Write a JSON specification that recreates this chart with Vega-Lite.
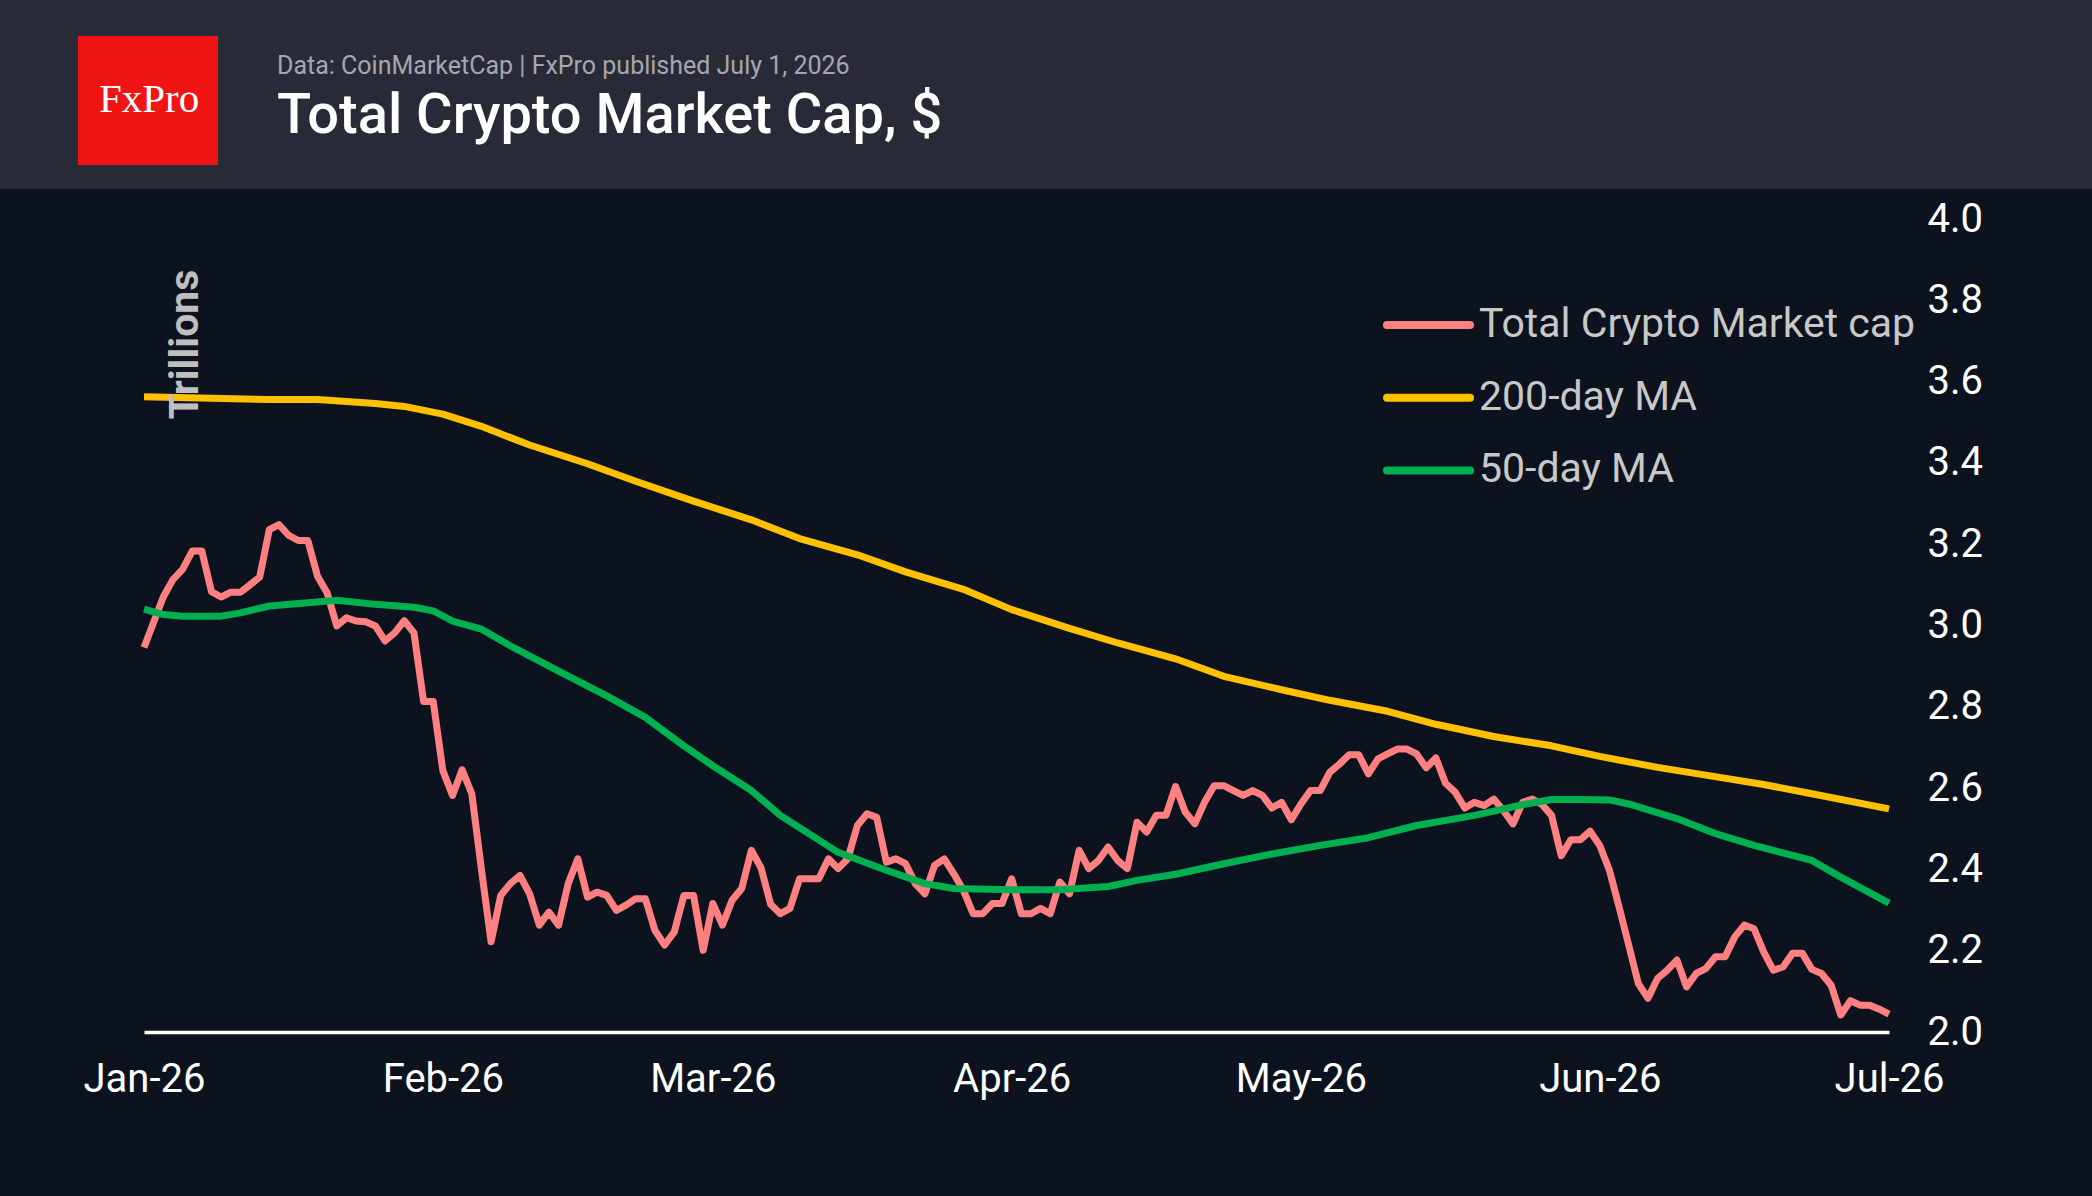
{
  "$schema": "https://vega.github.io/schema/vega-lite/v6.json",
  "background": "#0c131f",
  "padding": 0,
  "spacing": 10,
  "bounds": "full",
  "resolve": {"scale": {"color": "independent"}, "legend": {"color": "independent"}},
  "config": {
    "font": "Roboto",
    "view": {"stroke": null}
  },
  "datasets": {
    "total": [
      {"d":"2026-01-01","v":2.946},{"d":"2026-01-02","v":3.008},{"d":"2026-01-03","v":3.070},{"d":"2026-01-04","v":3.113},{"d":"2026-01-05","v":3.138},{"d":"2026-01-06","v":3.183},{"d":"2026-01-07","v":3.183},{"d":"2026-01-08","v":3.083},{"d":"2026-01-09","v":3.070},{"d":"2026-01-10","v":3.082},{"d":"2026-01-11","v":3.082},{"d":"2026-01-12","v":3.100},{"d":"2026-01-13","v":3.119},{"d":"2026-01-14","v":3.236},{"d":"2026-01-15","v":3.248},{"d":"2026-01-16","v":3.222},{"d":"2026-01-17","v":3.209},{"d":"2026-01-18","v":3.209},{"d":"2026-01-19","v":3.121},{"d":"2026-01-20","v":3.080},{"d":"2026-01-21","v":2.999},{"d":"2026-01-22","v":3.019},{"d":"2026-01-23","v":3.011},{"d":"2026-01-24","v":3.009},{"d":"2026-01-25","v":2.999},{"d":"2026-01-26","v":2.962},{"d":"2026-01-27","v":2.982},{"d":"2026-01-28","v":3.012},{"d":"2026-01-29","v":2.982},{"d":"2026-01-30","v":2.813},{"d":"2026-01-31","v":2.813},
      {"d":"2026-02-01","v":2.643},{"d":"2026-02-02","v":2.582},{"d":"2026-02-03","v":2.645},{"d":"2026-02-04","v":2.586},{"d":"2026-02-05","v":2.400},{"d":"2026-02-06","v":2.222},{"d":"2026-02-07","v":2.336},{"d":"2026-02-08","v":2.365},{"d":"2026-02-09","v":2.385},{"d":"2026-02-10","v":2.340},{"d":"2026-02-11","v":2.263},{"d":"2026-02-12","v":2.295},{"d":"2026-02-13","v":2.263},{"d":"2026-02-14","v":2.365},{"d":"2026-02-15","v":2.426},{"d":"2026-02-16","v":2.332},{"d":"2026-02-17","v":2.344},{"d":"2026-02-18","v":2.336},{"d":"2026-02-19","v":2.299},{"d":"2026-02-20","v":2.312},{"d":"2026-02-21","v":2.328},{"d":"2026-02-22","v":2.328},{"d":"2026-02-23","v":2.250},{"d":"2026-02-24","v":2.214},{"d":"2026-02-25","v":2.246},{"d":"2026-02-26","v":2.336},{"d":"2026-02-27","v":2.336},{"d":"2026-02-28","v":2.201},
      {"d":"2026-03-01","v":2.316},{"d":"2026-03-02","v":2.263},{"d":"2026-03-03","v":2.324},{"d":"2026-03-04","v":2.353},{"d":"2026-03-05","v":2.447},{"d":"2026-03-06","v":2.404},{"d":"2026-03-07","v":2.314},{"d":"2026-03-08","v":2.291},{"d":"2026-03-09","v":2.304},{"d":"2026-03-10","v":2.377},{"d":"2026-03-11","v":2.377},{"d":"2026-03-12","v":2.377},{"d":"2026-03-13","v":2.426},{"d":"2026-03-14","v":2.402},{"d":"2026-03-15","v":2.426},{"d":"2026-03-16","v":2.508},{"d":"2026-03-17","v":2.537},{"d":"2026-03-18","v":2.528},{"d":"2026-03-19","v":2.418},{"d":"2026-03-20","v":2.426},{"d":"2026-03-21","v":2.414},{"d":"2026-03-22","v":2.365},{"d":"2026-03-23","v":2.340},{"d":"2026-03-24","v":2.410},{"d":"2026-03-25","v":2.426},{"d":"2026-03-26","v":2.389},{"d":"2026-03-27","v":2.348},{"d":"2026-03-28","v":2.291},{"d":"2026-03-29","v":2.291},{"d":"2026-03-30","v":2.316},{"d":"2026-03-31","v":2.316},
      {"d":"2026-04-01","v":2.377},{"d":"2026-04-02","v":2.291},{"d":"2026-04-03","v":2.291},{"d":"2026-04-04","v":2.304},{"d":"2026-04-05","v":2.291},{"d":"2026-04-06","v":2.369},{"d":"2026-04-07","v":2.340},{"d":"2026-04-08","v":2.447},{"d":"2026-04-09","v":2.402},{"d":"2026-04-10","v":2.422},{"d":"2026-04-11","v":2.455},{"d":"2026-04-12","v":2.422},{"d":"2026-04-13","v":2.402},{"d":"2026-04-14","v":2.516},{"d":"2026-04-15","v":2.492},{"d":"2026-04-16","v":2.533},{"d":"2026-04-17","v":2.533},{"d":"2026-04-18","v":2.604},{"d":"2026-04-19","v":2.541},{"d":"2026-04-20","v":2.512},{"d":"2026-04-21","v":2.565},{"d":"2026-04-22","v":2.606},{"d":"2026-04-23","v":2.606},{"d":"2026-04-24","v":2.594},{"d":"2026-04-25","v":2.582},{"d":"2026-04-26","v":2.594},{"d":"2026-04-27","v":2.582},{"d":"2026-04-28","v":2.551},{"d":"2026-04-29","v":2.565},{"d":"2026-04-30","v":2.522},
      {"d":"2026-05-01","v":2.561},{"d":"2026-05-02","v":2.594},{"d":"2026-05-03","v":2.594},{"d":"2026-05-04","v":2.639},{"d":"2026-05-05","v":2.659},{"d":"2026-05-06","v":2.682},{"d":"2026-05-07","v":2.682},{"d":"2026-05-08","v":2.635},{"d":"2026-05-09","v":2.672},{"d":"2026-05-10","v":2.684},{"d":"2026-05-11","v":2.696},{"d":"2026-05-12","v":2.696},{"d":"2026-05-13","v":2.684},{"d":"2026-05-14","v":2.650},{"d":"2026-05-15","v":2.674},{"d":"2026-05-16","v":2.612},{"d":"2026-05-17","v":2.590},{"d":"2026-05-18","v":2.551},{"d":"2026-05-19","v":2.565},{"d":"2026-05-20","v":2.557},{"d":"2026-05-21","v":2.573},{"d":"2026-05-22","v":2.545},{"d":"2026-05-23","v":2.512},{"d":"2026-05-24","v":2.565},{"d":"2026-05-25","v":2.573},{"d":"2026-05-26","v":2.560},{"d":"2026-05-27","v":2.533},{"d":"2026-05-28","v":2.434},{"d":"2026-05-29","v":2.473},{"d":"2026-05-30","v":2.473},{"d":"2026-05-31","v":2.494},
      {"d":"2026-06-01","v":2.459},{"d":"2026-06-02","v":2.398},{"d":"2026-06-03","v":2.308},{"d":"2026-06-04","v":2.214},{"d":"2026-06-05","v":2.119},{"d":"2026-06-06","v":2.083},{"d":"2026-06-07","v":2.132},{"d":"2026-06-08","v":2.152},{"d":"2026-06-09","v":2.177},{"d":"2026-06-10","v":2.111},{"d":"2026-06-11","v":2.144},{"d":"2026-06-12","v":2.156},{"d":"2026-06-13","v":2.185},{"d":"2026-06-14","v":2.185},{"d":"2026-06-15","v":2.234},{"d":"2026-06-16","v":2.263},{"d":"2026-06-17","v":2.254},{"d":"2026-06-18","v":2.197},{"d":"2026-06-19","v":2.152},{"d":"2026-06-20","v":2.160},{"d":"2026-06-21","v":2.194},{"d":"2026-06-22","v":2.194},{"d":"2026-06-23","v":2.154},{"d":"2026-06-24","v":2.144},{"d":"2026-06-25","v":2.115},{"d":"2026-06-26","v":2.042},{"d":"2026-06-27","v":2.077},{"d":"2026-06-28","v":2.066},{"d":"2026-06-29","v":2.066},{"d":"2026-06-30","v":2.056},
      {"d":"2026-07-01","v":2.044}
    ],
    "ma200": [
      {"d":"2026-01-01","v":3.563},{"d":"2026-01-08","v":3.559},{"d":"2026-01-14","v":3.556},{"d":"2026-01-19","v":3.556},{"d":"2026-01-25","v":3.546},{"d":"2026-01-28","v":3.539},{"d":"2026-02-01","v":3.520},{"d":"2026-02-05","v":3.490},{"d":"2026-02-10","v":3.444},{"d":"2026-02-16","v":3.398},{"d":"2026-02-21","v":3.355},{"d":"2026-02-27","v":3.306},{"d":"2026-03-05","v":3.260},{"d":"2026-03-10","v":3.214},{"d":"2026-03-16","v":3.174},{"d":"2026-03-21","v":3.132},{"d":"2026-03-27","v":3.089},{"d":"2026-04-01","v":3.039},{"d":"2026-04-07","v":2.993},{"d":"2026-04-12","v":2.957},{"d":"2026-04-18","v":2.918},{"d":"2026-04-23","v":2.875},{"d":"2026-04-29","v":2.842},{"d":"2026-05-04","v":2.816},{"d":"2026-05-10","v":2.789},{"d":"2026-05-15","v":2.757},{"d":"2026-05-21","v":2.727},{"d":"2026-05-27","v":2.704},{"d":"2026-06-01","v":2.678},{"d":"2026-06-07","v":2.651},{"d":"2026-06-12","v":2.632},{"d":"2026-06-18","v":2.609},{"d":"2026-06-23","v":2.586},{"d":"2026-07-01","v":2.549}
    ],
    "ma50": [
      {"d":"2026-01-01","v":3.040},{"d":"2026-01-03","v":3.027},{"d":"2026-01-05","v":3.023},{"d":"2026-01-09","v":3.023},{"d":"2026-01-11","v":3.031},{"d":"2026-01-14","v":3.048},{"d":"2026-01-18","v":3.056},{"d":"2026-01-21","v":3.062},{"d":"2026-01-25","v":3.052},{"d":"2026-01-29","v":3.045},{"d":"2026-01-31","v":3.036},{"d":"2026-02-02","v":3.011},{"d":"2026-02-05","v":2.991},{"d":"2026-02-08","v":2.950},{"d":"2026-02-13","v":2.888},{"d":"2026-02-18","v":2.827},{"d":"2026-02-22","v":2.774},{"d":"2026-02-26","v":2.704},{"d":"2026-03-01","v":2.655},{"d":"2026-03-05","v":2.594},{"d":"2026-03-08","v":2.533},{"d":"2026-03-14","v":2.442},{"d":"2026-03-19","v":2.398},{"d":"2026-03-23","v":2.365},{"d":"2026-03-26","v":2.353},{"d":"2026-04-01","v":2.350},{"d":"2026-04-06","v":2.350},{"d":"2026-04-11","v":2.358},{"d":"2026-04-14","v":2.373},{"d":"2026-04-18","v":2.388},{"d":"2026-04-23","v":2.414},{"d":"2026-04-28","v":2.438},{"d":"2026-05-03","v":2.459},{"d":"2026-05-08","v":2.478},{"d":"2026-05-13","v":2.508},{"d":"2026-05-19","v":2.533},{"d":"2026-05-24","v":2.559},{"d":"2026-05-27","v":2.572},{"d":"2026-05-30","v":2.572},{"d":"2026-06-02","v":2.571},{"d":"2026-06-04","v":2.561},{"d":"2026-06-09","v":2.525},{"d":"2026-06-13","v":2.488},{"d":"2026-06-17","v":2.459},{"d":"2026-06-23","v":2.422},{"d":"2026-06-26","v":2.381},{"d":"2026-07-01","v":2.317}
    ]
  },
  "vconcat": [
    {
      "spacing": 0,
      "bounds": "flush",
      "resolve": {"scale": {"color": "independent"}, "legend": {"color": "independent"}},
      "hconcat": [
        {
          "width": 277,
          "height": 189,
          "view": {"fill": "#282b37", "stroke": null},
          "data": {"values": [{}]},
          "layer": [
            {
              "mark": {"type": "point", "shape": "M-0.864,-0.836H1.136V1.007H-0.864Z", "size": 19600, "filled": true, "fill": "#f01414", "opacity": 1, "strokeWidth": 0},
              "encoding": {}
            },
            {
              "mark": {"type": "text", "text": "FxPro", "font": "Liberation Serif", "fontSize": 41, "color": "#ffffff", "dx": 10.5, "dy": 5},
              "encoding": {}
            }
          ]
        },
        {
          "width": 1815,
          "height": 189,
          "view": {"fill": "#282b37", "stroke": null},
          "title": {
            "text": "Data: CoinMarketCap | FxPro published July 1, 2026",
            "subtitle": "Total Crypto Market Cap, $",
            "orient": "top",
            "anchor": "start",
            "frame": "group",
            "offset": -143.5,
            "font": "Roboto",
            "fontSize": 25,
            "fontWeight": "normal",
            "color": "#a6a6ad",
            "subtitleFont": "Roboto",
            "subtitleFontSize": 56,
            "subtitleFontWeight": 500,
            "subtitleColor": "#ffffff",
            "subtitlePadding": 9.5
          },
          "data": {"values": [{}]},
          "mark": {"type": "text", "text": ""},
          "encoding": {}
        }
      ]
    },
    {
      "spacing": 0,
      "bounds": "flush",
      "resolve": {"scale": {"color": "independent"}, "legend": {"color": "independent"}},
      "hconcat": [
        {
          "width": 144,
          "height": 813,
          "data": {"values": [{}]},
          "mark": {"type": "text", "text": ""},
          "encoding": {}
        },
        {
          "width": 1745,
          "height": 813,
          "encoding": {
            "x": {
              "field": "d",
              "type": "temporal",
              "scale": {"type": "utc", "domain": [{"year": 2026, "month": 1, "date": 1, "utc": true}, {"year": 2026, "month": 7, "date": 1, "utc": true}], "nice": false},
              "axis": {
                "title": null,
                "values": [
                  {"year": 2026, "month": 1, "date": 1, "utc": true},
                  {"year": 2026, "month": 2, "date": 1, "utc": true},
                  {"year": 2026, "month": 3, "date": 1, "utc": true},
                  {"year": 2026, "month": 4, "date": 1, "utc": true},
                  {"year": 2026, "month": 5, "date": 1, "utc": true},
                  {"year": 2026, "month": 6, "date": 1, "utc": true},
                  {"year": 2026, "month": 7, "date": 1, "utc": true}
                ],
                "format": "%b-%y",
                "grid": false,
                "ticks": false,
                "tickSize": 0,
                "labelPadding": 27,
                "labelFont": "Roboto",
                "labelFontSize": 40,
                "labelColor": "#ffffff",
                "labelOverlap": false,
                "labelFlush": false,
                "labelBound": false,
                "domainColor": "#ffffff",
                "domainWidth": 3.5,
                "zindex": 1
              }
            },
            "y": {
              "field": "v",
              "type": "quantitative",
              "scale": {"domain": [2, 4], "nice": false, "zero": false},
              "axis": {
                "orient": "right",
                "values": [2, 2.2, 2.4, 2.6, 2.8, 3, 3.2, 3.4, 3.6, 3.8, 4],
                "format": ".1f",
                "grid": false,
                "ticks": false,
                "tickSize": 0,
                "domain": false,
                "labelAlign": "left",
                "labelBaseline": "middle",
                "labelPadding": 38,
                "labelFont": "Roboto",
                "labelFontSize": 40,
                "labelColor": "#ffffff",
                "labelOverlap": false,
                "labelBound": false,
                "labelFlush": false,
                "title": "Trillions",
                "titleAngle": -90,
                "titleX": -1692,
                "titleY": 125,
                "titleAlign": "center",
                "titleBaseline": "alphabetic",
                "titleFont": "Roboto",
                "titleFontSize": 41,
                "titleFontWeight": "bold",
                "titleColor": "#bfbfbf",
                "zindex": 1
              }
            }
          },
          "layer": [
            {
              "data": {"name": "total"},
              "mark": {"type": "line", "strokeWidth": 7, "strokeJoin": "round"},
              "encoding": {
                "color": {
                  "datum": "Total Crypto Market cap",
                  "type": "nominal",
                  "scale": {"domain": ["Total Crypto Market cap", "200-day MA", "50-day MA"], "range": ["#ff8080", "#ffc000", "#00b050"]},
                  "legend": {
                    "orient": "none",
                    "legendX": 1239,
                    "legendY": 84,
                    "title": null,
                    "direction": "vertical",
                    "symbolType": "stroke",
                    "symbolSize": 6889,
                    "symbolStrokeWidth": 8,
                    "symbolOpacity": 1,
                    "labelFont": "Roboto",
                    "labelFontSize": 41,
                    "labelColor": "#c8c8c8",
                    "labelOffset": 5,
                    "labelLimit": 1000,
                    "clipHeight": 44,
                    "rowPadding": 28.7,
                    "padding": 0,
                    "encode": {"symbols": {"update": {"strokeCap": {"value": "round"}}}}
                  }
                }
              }
            },
            {
              "data": {"name": "ma200"},
              "mark": {"type": "line", "strokeWidth": 7, "strokeJoin": "round"},
              "encoding": {"color": {"datum": "200-day MA", "type": "nominal"}}
            },
            {
              "data": {"name": "ma50"},
              "mark": {"type": "line", "strokeWidth": 7, "strokeJoin": "round"},
              "encoding": {"color": {"datum": "50-day MA", "type": "nominal"}}
            }
          ]
        }
      ]
    },
    {
      "width": 10,
      "height": 100,
      "data": {"values": [{}]},
      "mark": {"type": "text", "text": ""},
      "encoding": {}
    }
  ]
}
